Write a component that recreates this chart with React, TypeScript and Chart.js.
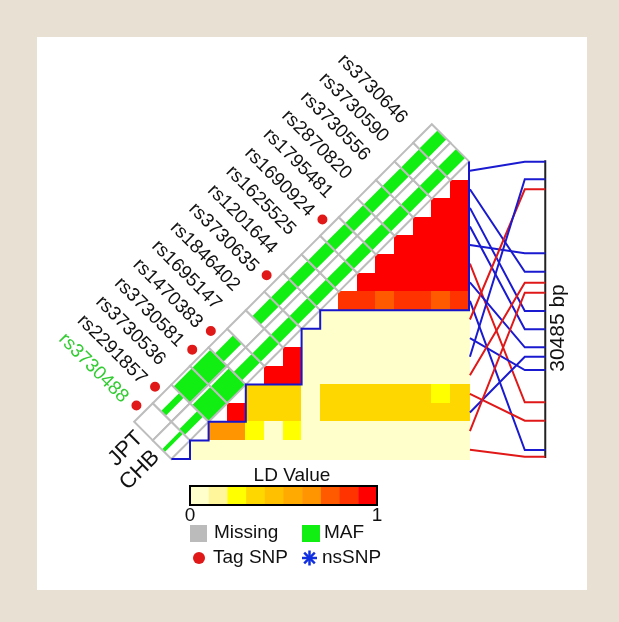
import React, { useEffect, useRef } from 'react';
import { Chart, registerables } from 'chart.js';

Chart.register(...registerables);

// ---------- DATA ----------
const snpNames = [
  'rs3730488', 'rs2291857', 'rs3730536', 'rs3730581', 'rs1470383', 'rs1695147',
  'rs1846402', 'rs3730635', 'rs1201644', 'rs1625525', 'rs1690924', 'rs1795481',
  'rs2870820', 'rs3730556', 'rs3730590', 'rs3730646',
];
const tagSnp = [true, true, false, true, true, false, false, true, false, false, true, false, false, false, false, false];
const highlightedSnp = 'rs3730488';
// minor allele frequency bars (fraction of the box) for each population
const mafJPT = [0, 0.25, 0.9, 0.9, 0.45, 0, 0.45, 0.45, 0.45, 0.45, 0.45, 0.45, 0.45, 0.45, 0.45, 0.48];
const mafCHB = [0.15, 0.3, 0.9, 0.9, 0.45, 0.45, 0.45, 0.45, 0.45, 0.45, 0.45, 0.45, 0.45, 0.45, 0.45, 0.48];
// genomic position of each SNP within the region (bp)
const snpPositionBp = [30485, 13537, 20151, 26765, 12504, 1819, 21526, 2852, 29793, 19180, 24864, 9466, 17320, 15429, 11367, 0];
const regionLengthBp = 30485;
const populations = ['JPT', 'CHB'];

// LD matrix rows: row r holds the values of columns (15 - r) .. 15
const ldRows: number[][] = [
  [1],
  [1, 1],
  [1, 1, 1],
  [1, 1, 1, 1],
  [1, 1, 1, 1, 1],
  [1, 1, 1, 1, 1, 1],
  [0.85, 0.85, 0.75, 0.85, 0.85, 0.75, 0.85],
  [0.05, 0.05, 0.05, 0.05, 0.05, 0.05, 0.05, 0.05],
  [0.05, 0.05, 0.05, 0.05, 0.05, 0.05, 0.05, 0.05, 0.05],
  [1, 0.05, 0.05, 0.05, 0.05, 0.05, 0.05, 0.05, 0.05, 0.05],
  [1, 1, 0.05, 0.05, 0.05, 0.05, 0.05, 0.05, 0.05, 0.05, 0.05],
  [0.35, 0.35, 0.35, 0.05, 0.35, 0.35, 0.35, 0.35, 0.35, 0.35, 0.25, 0.35],
  [1, 0.35, 0.35, 0.35, 0.05, 0.35, 0.35, 0.35, 0.35, 0.35, 0.35, 0.35, 0.35],
  [0.65, 0.65, 0.25, 0.05, 0.25, 0.05, 0.05, 0.05, 0.05, 0.05, 0.05, 0.05, 0.05, 0.05],
  [0.05, 0.05, 0.05, 0.05, 0.05, 0.05, 0.05, 0.05, 0.05, 0.05, 0.05, 0.05, 0.05, 0.05, 0.05],
];
// block boundary (matrix grid corners)
const blockOutline: [number, number][] = [
  [0, 15], [1, 15], [1, 14], [2, 14], [2, 13], [4, 13], [4, 11], [7, 11],
  [7, 8], [8, 8], [8, 7], [16, 7], [16, -1],
];
const ldPalette = ['#FFFFCC', '#FFF59A', '#FFFF00', '#FFD700', '#FFC000', '#FFAA00', '#FF9500', '#FF5A00', '#FF3300', '#FF0000'];
const rulerLabel = '30485 bp';

// ---------- LAYOUT ----------
const W = 619;
const H = 622;
const CELL = 18.6;
const ORIGIN_X = 171.4;
const ORIGIN_Y = 180;
const N = snpNames.length;
const FONT = "'Liberation Sans', Arial, Helvetica, sans-serif";
const BLUE = '#1a1ad0';
const RED = '#e01818';
const GREEN = '#11ee11';

const ldColor = (v: number) => ldPalette[Math.min(ldPalette.length - 1, Math.floor(v * 10))];
const rulerTop = -0.984;
const rulerSpan = 15.86;
const yOfBp = (bp: number) => rulerTop + (bp / regionLengthBp) * rulerSpan;

const App: React.FC = () => {
  const ref = useRef<HTMLCanvasElement | null>(null);

  useEffect(() => {
    const canvas = ref.current;
    if (!canvas) return;

    const drawPlugin = {
      id: 'ldPlot',
      beforeDatasetsDraw(chart: any) {
        const ctx = chart.ctx as CanvasRenderingContext2D;
        const px = (u: number) => chart.scales.x.getPixelForValue(u);
        const py = (v: number) => chart.scales.y.getPixelForValue(v);

        // heatmap cells
        ldRows.forEach((row, r) => {
          row.forEach((v, i) => {
            const c = N - 1 - r + i;
            const x0 = px(c), x1 = px(c + 1);
            const y0 = py(r), y1 = py(r + 1);
            ctx.fillStyle = ldColor(v);
            ctx.fillRect(Math.floor(x0), Math.floor(y0), Math.ceil(x1 - x0) + 1, Math.ceil(y1 - y0) + 1);
          });
        });

        // diagonal boxes
        const drawBox = (cx: number, cy: number, maf: number) => {
          const L = [px(cx - 1), py(cy)];
          const T = [px(cx), py(cy - 1)];
          const R = [px(cx + 1), py(cy)];
          const B = [px(cx), py(cy + 1)];
          ctx.beginPath();
          ctx.moveTo(L[0], L[1]); ctx.lineTo(T[0], T[1]); ctx.lineTo(R[0], R[1]); ctx.lineTo(B[0], B[1]);
          ctx.closePath();
          ctx.fillStyle = '#ffffff';
          ctx.fill();
          if (maf > 0) {
            const u = [T[0] - L[0], T[1] - L[1]];
            const w = [B[0] - L[0], B[1] - L[1]];
            const off = 0.06;
            const t0 = Math.max(0, 0.5 - maf / 2 + off);
            const t1 = Math.min(1, 0.5 + maf / 2 + off);
            const P = (s: number, t: number) => [L[0] + s * u[0] + t * w[0], L[1] + s * u[1] + t * w[1]];
            const a = P(0, t0), b = P(1, t0), c = P(1, t1), d = P(0, t1);
            ctx.beginPath();
            ctx.moveTo(a[0], a[1]); ctx.lineTo(b[0], b[1]); ctx.lineTo(c[0], c[1]); ctx.lineTo(d[0], d[1]);
            ctx.closePath();
            ctx.fillStyle = GREEN;
            ctx.fill();
          }
          ctx.beginPath();
          ctx.moveTo(L[0], L[1]); ctx.lineTo(T[0], T[1]); ctx.lineTo(R[0], R[1]); ctx.lineTo(B[0], B[1]);
          ctx.closePath();
          ctx.strokeStyle = '#bdbdbd';
          ctx.lineWidth = 2;
          ctx.stroke();
        };
        for (let k = 0; k < N; k++) {
          drawBox(k - 1, N - 3 - k, mafJPT[k]);
          drawBox(k, N - 2 - k, mafCHB[k]);
        }
      },
      afterDatasetsDraw(chart: any) {
        const ctx = chart.ctx as CanvasRenderingContext2D;
        const px = (u: number) => chart.scales.x.getPixelForValue(u);
        const py = (v: number) => chart.scales.y.getPixelForValue(v);

        // SNP labels
        ctx.save();
        ctx.font = `19px ${FONT}`;
        for (let k = 0; k < N; k++) {
          const ex = px(k - 1.5);
          const ey = py(N - 3 - k - 0.5);
          ctx.save();
          ctx.translate(ex, ey);
          ctx.rotate(Math.PI / 4);
          ctx.textAlign = 'right';
          ctx.textBaseline = 'middle';
          ctx.fillStyle = snpNames[k] === highlightedSnp ? '#33cc33' : '#111111';
          ctx.fillText(snpNames[k], -22, 4);
          if (tagSnp[k]) {
            ctx.beginPath();
            ctx.arc(-10, 0, 5, 0, Math.PI * 2);
            ctx.fillStyle = RED;
            ctx.fill();
          }
          ctx.restore();
        }
        ctx.restore();

        // population labels
        ctx.save();
        ctx.font = `22px ${FONT}`;
        ctx.fillStyle = '#111111';
        ctx.textAlign = 'center';
        ctx.textBaseline = 'middle';
        const popPos = [[-2.45, 14.45], [-1.7, 15.6]];
        populations.forEach((p, i) => {
          ctx.save();
          ctx.translate(px(popPos[i][0]), py(popPos[i][1]));
          ctx.rotate(-Math.PI / 4);
          ctx.fillText(p, 0, 0);
          ctx.restore();
        });
        ctx.restore();

        // ruler label
        ctx.save();
        ctx.font = `21px ${FONT}`;
        ctx.fillStyle = '#111111';
        ctx.textAlign = 'center';
        ctx.textBaseline = 'middle';
        ctx.translate(558, 328);
        ctx.rotate(-Math.PI / 2);
        ctx.fillText(rulerLabel, 0, 0);
        ctx.restore();

        // legend
        ctx.save();
        ctx.font = `19px ${FONT}`;
        ctx.fillStyle = '#111111';
        ctx.textAlign = 'center';
        ctx.textBaseline = 'middle';
        ctx.fillText('LD Value', 292, 476);
        const bx0 = 190, bx1 = 377, by0 = 486, by1 = 505;
        const seg = (bx1 - bx0) / ldPalette.length;
        ldPalette.forEach((c, i) => {
          ctx.fillStyle = c;
          ctx.fillRect(bx0 + i * seg, by0, seg + 0.5, by1 - by0);
        });
        ctx.strokeStyle = '#000';
        ctx.lineWidth = 2;
        ctx.strokeRect(bx0, by0, bx1 - bx0, by1 - by0);
        ctx.fillStyle = '#111111';
        ctx.textBaseline = 'top';
        ctx.fillText('0', bx0, by1 + 1);
        ctx.fillText('1', bx1, by1 + 1);

        ctx.textAlign = 'left';
        ctx.textBaseline = 'middle';
        ctx.fillStyle = '#bbbbbb';
        ctx.fillRect(190, 525, 17, 17);
        ctx.fillStyle = '#111111';
        ctx.fillText('Missing', 214, 533);
        ctx.fillStyle = GREEN;
        ctx.fillRect(302, 525, 18, 17);
        ctx.fillStyle = '#111111';
        ctx.fillText('MAF', 324, 533);

        ctx.beginPath();
        ctx.arc(199, 558, 6, 0, Math.PI * 2);
        ctx.fillStyle = RED;
        ctx.fill();
        ctx.fillStyle = '#111111';
        ctx.fillText('Tag SNP', 213, 558);
        ctx.strokeStyle = '#1030e0';
        ctx.lineWidth = 2.5;
        for (let a = 0; a < 4; a++) {
          const ang = (a * Math.PI) / 4;
          ctx.beginPath();
          ctx.moveTo(309.5 - 7.5 * Math.cos(ang), 558 - 7.5 * Math.sin(ang));
          ctx.lineTo(309.5 + 7.5 * Math.cos(ang), 558 + 7.5 * Math.sin(ang));
          ctx.stroke();
        }
        ctx.fillStyle = '#111111';
        ctx.fillText('nsSNP', 322, 558);
        ctx.restore();
      },
    };

    const datasets: any[] = [];
    datasets.push({
      label: 'block',
      data: blockOutline.map(([x, y]) => ({ x, y })),
      borderColor: '#1515cc',
      borderWidth: 2,
      pointRadius: 0,
      tension: 0,
      fill: false,
    });
    for (let k = 0; k < N; k++) {
      const ye = yOfBp(snpPositionBp[k]);
      datasets.push({
        label: snpNames[k],
        data: [
          { x: 16.05, y: N - 1.5 - k },
          { x: 19.0, y: ye },
          { x: 20.1, y: ye },
        ],
        borderColor: tagSnp[k] ? RED : BLUE,
        borderWidth: 2,
        pointRadius: 0,
        tension: 0,
        fill: false,
      });
    }
    datasets.push({
      label: 'ruler',
      data: [
        { x: 20.1, y: yOfBp(0) - 0.08 },
        { x: 20.1, y: yOfBp(regionLengthBp) + 0.07 },
      ],
      borderColor: '#222222',
      borderWidth: 2,
      pointRadius: 0,
      fill: false,
    });

    const chart = new Chart(canvas, {
      type: 'line',
      data: { datasets },
      options: {
        animation: false,
        responsive: false,
        events: [],
        layout: { padding: 0 },
        scales: {
          x: { type: 'linear', display: false, min: -ORIGIN_X / CELL, max: (W - ORIGIN_X) / CELL },
          y: { type: 'linear', display: false, reverse: true, min: -ORIGIN_Y / CELL, max: (H - ORIGIN_Y) / CELL },
        },
        plugins: { legend: { display: false }, tooltip: { enabled: false }, title: { display: false } },
      },
      plugins: [drawPlugin],
    });
    return () => chart.destroy();
  }, []);

  return (
    <div style={{ position: 'fixed', left: 0, top: 0, width: W, height: H, background: '#e8e1d3', overflow: 'hidden' }}>
      <div style={{ position: 'absolute', left: 37, top: 37, width: 550, height: 553, background: '#ffffff' }} />
      <canvas ref={ref} width={W} height={H} style={{ position: 'absolute', left: 0, top: 0, width: W, height: H }} />
    </div>
  );
};

export default App;
